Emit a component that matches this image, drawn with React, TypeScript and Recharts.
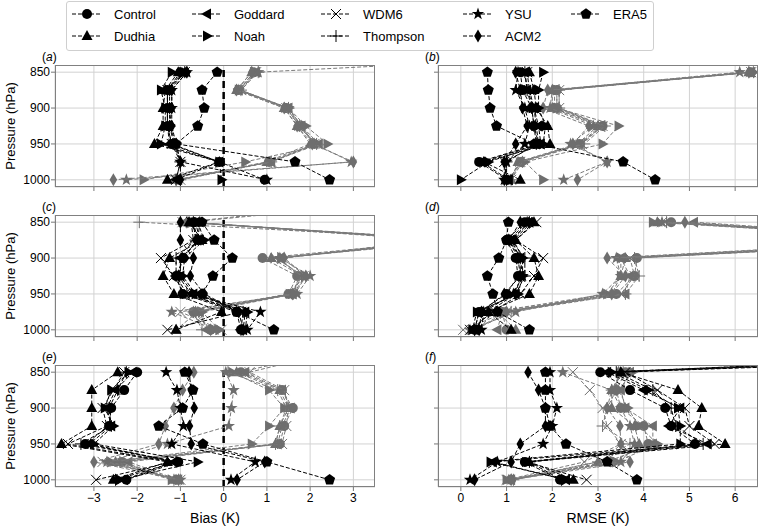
import React from 'react';
import { ScatterChart, Scatter, XAxis, YAxis, CartesianGrid, ReferenceLine } from 'recharts';

// pressure levels, top of profile first
const LEVELS = [850, 875, 900, 925, 950, 975, 1000];
const ABOVE_LEVEL = 825;
const SCHEMES = ['Control', 'Dudhia', 'Goddard', 'Noah', 'WDM6', 'Thompson', 'YSU', 'ACM2'];
const BIAS_TICKS = [-3, -2, -1, 0, 1, 2, 3];
const RMSE_TICKS = [0, 1, 2, 3, 4, 5, 6];
const P_TICKS = [850, 900, 950, 1000];

// (a) bias
const aBlack: Record<string, number[]> = {
  Control: [-1.0, -1.3, -1.3, -1.3, -1.2, -0.1, 0.95],
  Dudhia: [-1.05, -1.35, -1.4, -1.4, -1.6, -0.1, -1.3],
  Goddard: [-0.95, -1.3, -1.3, -1.3, -1.25, -0.1, -1.1],
  Noah: [-1.2, -1.45, -1.35, -1.35, -1.45, -0.1, -0.05],
  WDM6: [-0.9, -1.3, -1.3, -1.3, -1.2, -1.0, -1.1],
  Thompson: [-0.9, -1.25, -1.25, -1.25, -1.1, -1.0, -1.1],
  YSU: [-0.85, -1.2, -1.2, -1.25, -1.15, -1.0, 1.0],
  ACM2: [-0.85, -1.2, -1.2, -1.2, -1.1, -1.0, -1.0],
};
const aGray: Record<string, number[]> = {
  Control: [0.7, 0.35, 1.45, 1.75, 2.1, 1.05, -1.05],
  Dudhia: [0.65, 0.3, 1.4, 1.7, 2.0, 1.0, -1.1],
  Goddard: [0.75, 0.35, 1.5, 1.8, 2.2, 1.1, -1.05],
  Noah: [0.7, 0.35, 1.5, 1.9, 2.4, 0.5, -1.85],
  WDM6: [0.75, 0.4, 1.45, 1.75, 2.1, 1.1, -1.0],
  Thompson: [0.8, 0.4, 1.5, 1.75, 2.15, 1.1, -1.0],
  YSU: [0.8, 0.35, 1.5, 1.8, 2.1, 2.95, -2.25],
  ACM2: [0.65, 0.3, 1.4, 1.7, 2.05, 3.0, -2.55],
};
const aGrayAbove: Record<string, number> = { Thompson: 9 };
const aEra5 = [-0.15, -0.5, -0.45, -0.6, -1.1, 1.65, 2.45];

// (b) rmse
const bBlack: Record<string, number[]> = {
  Control: [1.3, 1.35, 1.55, 1.6, 1.7, 0.4, 1.0],
  Dudhia: [1.5, 1.6, 1.65, 1.9, 1.95, 0.5, 1.3],
  Goddard: [1.4, 1.45, 1.6, 1.7, 1.75, 0.45, 1.05],
  Noah: [1.8, 1.7, 1.7, 1.85, 1.8, 0.6, 0.0],
  WDM6: [1.45, 1.5, 1.6, 1.65, 1.7, 0.95, 1.0],
  Thompson: [1.4, 1.45, 1.55, 1.6, 1.65, 1.0, 1.0],
  YSU: [1.25, 1.2, 1.4, 1.5, 1.4, 1.0, 0.95],
  ACM2: [1.2, 1.3, 1.35, 1.45, 1.2, 0.95, 0.95],
};
const bGray: Record<string, number[]> = {
  Control: [6.35, 2.1, 2.1, 3.1, 2.6, 1.3, 1.05],
  Dudhia: [6.3, 2.0, 2.0, 3.0, 2.55, 1.25, 1.1],
  Goddard: [6.35, 2.05, 2.05, 3.05, 2.6, 1.3, 1.05],
  Noah: [6.4, 2.1, 2.1, 3.45, 3.1, 1.4, 1.8],
  WDM6: [6.35, 2.15, 2.15, 3.1, 2.65, 1.3, 1.1],
  Thompson: [6.4, 2.15, 2.15, 3.15, 2.7, 1.35, 1.1],
  YSU: [6.1, 2.0, 1.95, 2.9, 2.4, 3.2, 2.25],
  ACM2: [6.3, 1.9, 1.8, 2.8, 2.45, 3.2, 2.55],
};
const bEra5 = [0.58, 0.6, 0.64, 0.78, 1.6, 3.55, 4.25];

// (c) bias
const cBlack: Record<string, number[]> = {
  Control: [-0.7, -0.6, -0.93, -1.1, -0.95, 0.3, 0.4],
  Dudhia: [-0.8, -0.5, -1.25, -1.4, -1.15, -0.05, -1.1],
  Goddard: [-0.65, -0.55, -1.0, -1.0, -0.7, 0.5, 0.45],
  Noah: [-0.6, -0.45, -0.9, -0.95, -0.65, 0.55, 0.5],
  WDM6: [-0.75, -0.7, -1.45, -1.15, -0.9, 0.4, -1.3],
  Thompson: [-0.7, -0.65, -1.1, -1.1, -0.85, 0.45, 0.4],
  YSU: [-0.55, -0.6, -0.95, -1.05, -0.75, 0.85, 0.55],
  ACM2: [-1.0, -1.0, -0.7, -0.77, -0.45, 0.35, 0.45],
};
const cGray: Record<string, number[]> = {
  Control: [-0.8, 5.2, 0.9, 1.7, 1.5, -0.7, -0.3],
  Dudhia: [-0.85, 5.5, 1.1, 1.8, 1.55, -0.6, -1.1],
  Goddard: [-0.9, 5.3, 1.3, 1.75, 1.6, -0.55, -0.4],
  Noah: [-0.75, 5.0, 1.35, 1.9, 1.65, -0.5, -0.1],
  WDM6: [-0.95, 5.4, 1.2, 1.85, 1.55, -1.0, -0.05],
  Thompson: [-1.95, 5.6, 1.25, 1.8, 1.6, -0.7, -0.5],
  YSU: [-0.8, 5.1, 1.3, 2.0, 1.7, -1.2, -0.2],
  ACM2: [-0.85, 4.8, 1.4, 1.9, 1.6, -0.65, -0.3],
};
const cGrayAbove: Record<string, number> = { Control: 3.4, Goddard: 3.0 };
const cEra5 = [-0.5, -0.22, 0.2, -0.25, -0.5, 0.3, 1.16];

// (d) rmse
const dBlack: Record<string, number[]> = {
  Control: [1.4, 1.0, 1.2, 1.25, 1.0, 0.4, 0.3],
  Dudhia: [1.6, 1.2, 1.6, 1.7, 1.5, 0.6, 1.1],
  Goddard: [1.5, 1.1, 1.3, 1.3, 1.2, 0.4, 0.3],
  Noah: [1.55, 1.15, 1.35, 1.35, 1.25, 0.35, 0.25],
  WDM6: [1.65, 1.2, 1.8, 1.6, 1.3, 0.7, 0.2],
  Thompson: [1.5, 1.1, 1.4, 1.4, 1.2, 0.6, 0.3],
  YSU: [1.45, 1.05, 1.3, 1.35, 1.15, 0.5, 0.45],
  ACM2: [1.3, 1.05, 1.25, 1.3, 0.95, 0.45, 0.4],
};
const dGray: Record<string, number[]> = {
  Control: [4.6, 11.0, 3.85, 3.8, 3.4, 0.9, 1.0],
  Dudhia: [4.3, 11.2, 3.6, 3.5, 3.3, 0.8, 1.2],
  Goddard: [5.1, 10.8, 3.5, 3.7, 3.6, 0.9, 0.8],
  Noah: [4.2, 10.6, 3.5, 3.5, 3.2, 0.7, 0.4],
  WDM6: [4.4, 11.4, 3.7, 3.8, 3.5, 1.0, 0.05],
  Thompson: [4.5, 11.5, 3.8, 3.9, 3.6, 1.1, 0.3],
  YSU: [4.4, 10.5, 3.4, 3.5, 3.1, 1.2, 0.2],
  ACM2: [4.9, 10.4, 3.2, 3.6, 3.3, 1.0, 0.3],
};
const dEra5 = [1.04, 1.0, 0.83, 0.58, 0.7, 0.8, 1.5];

// (e) bias
const eBlack: Record<string, number[]> = {
  Control: [-2.0, -2.3, -2.6, -2.65, -3.2, -1.05, -2.25],
  Dudhia: [-2.45, -3.05, -3.05, -3.05, -3.75, -1.3, -2.55],
  Goddard: [-2.1, -2.5, -2.7, -2.6, -3.1, -1.15, -2.3],
  Noah: [-2.2, -2.6, -2.75, -2.55, -3.0, -0.6, -2.4],
  WDM6: [-2.3, -2.55, -2.8, -2.7, -3.6, -1.2, -2.95],
  Thompson: [-2.25, -2.45, -2.65, -2.6, -3.3, -1.1, -2.5],
  YSU: [-1.33, -1.08, -1.0, -0.93, -1.2, 0.73, 0.17],
  ACM2: [-0.8, -0.75, -0.68, -0.79, -0.75, 0.95, 0.31],
};
const eGray: Record<string, number[]> = {
  Control: [0.4, 1.35, 1.6, 1.4, 1.3, -2.35, -1.1],
  Dudhia: [0.3, 1.3, 1.5, 1.3, 1.2, -2.5, -1.1],
  Goddard: [0.5, 1.35, 1.55, 1.35, 1.25, -2.2, -1.05],
  Noah: [0.2, 1.05, 1.4, 1.05, 0.65, -2.6, -1.2],
  WDM6: [0.6, 1.4, 1.5, 1.45, 1.35, -2.8, -1.0],
  Thompson: [0.1, 1.25, 1.45, 1.3, 1.2, -2.4, -1.15],
  YSU: [0.05, 0.23, 0.18, 0.12, -1.3, -2.7, -1.0],
  ACM2: [-0.69, -0.95, -1.15, -1.35, -1.5, -3.0, -1.04],
};
const eGrayAbove: Record<string, number> = { Control: 2.1, WDM6: 2.3 };
const eEra5 = [-0.9, -0.71, -0.95, -1.5, -0.48, 1.0, 2.45];

// (f) rmse
const fBlack: Record<string, number[]> = {
  Control: [3.05, 3.7, 4.47, 4.6, 5.12, 1.4, 2.17],
  Dudhia: [3.5, 4.75, 5.27, 5.2, 5.78, 1.5, 2.46],
  Goddard: [3.2, 4.0, 4.8, 4.55, 5.4, 0.7, 2.3],
  Noah: [3.3, 4.1, 4.75, 4.8, 4.8, 0.65, 2.3],
  WDM6: [3.6, 4.3, 4.9, 5.0, 5.55, 1.45, 2.75],
  Thompson: [3.4, 4.2, 4.6, 4.7, 5.3, 1.5, 2.2],
  YSU: [1.95, 1.95, 2.1, 2.0, 1.8, 0.8, 0.2],
  ACM2: [1.47, 1.7, 1.85, 1.85, 1.3, 1.1, 0.3],
};
const fBlackAbove: Record<string, number> = { Control: 13, Goddard: 14, Noah: 12, Thompson: 15, WDM6: 13 };
const fGray: Record<string, number[]> = {
  Control: [3.6, 3.4, 3.5, 4.0, 4.1, 3.3, 1.1],
  Dudhia: [3.5, 3.3, 3.3, 3.8, 3.9, 3.0, 1.05],
  Goddard: [3.7, 3.5, 3.6, 4.2, 4.2, 3.2, 1.1],
  Noah: [3.75, 3.45, 3.65, 3.9, 4.3, 3.4, 1.0],
  WDM6: [2.45, 2.82, 3.1, 3.2, 3.5, 2.7, 1.0],
  Thompson: [3.55, 3.3, 3.2, 3.1, 3.7, 3.0, 1.15],
  YSU: [2.23, 3.3, 3.5, 3.7, 3.8, 3.5, 1.1],
  ACM2: [3.45, 3.4, 3.2, 3.48, 3.5, 3.7, 1.1],
};
const fEra5 = [1.85, 1.85, 1.85, 1.95, 2.3, 3.2, 3.85];

const MARKER: Record<string, string> = {
  Control: 'circle', Dudhia: 'triUp', Goddard: 'triLeft', Noah: 'triRight',
  WDM6: 'x', Thompson: 'plus', YSU: 'star', ACM2: 'diamond', ERA5: 'pentagon',
};

const BLACK = '#000000';
const GRAY_MARK = '#6e6e6e';
const GRAY_LINE = '#7a7a7a';

const PLOT_W = 320;
const PLOT_H = 122;
const P_DOMAIN = [840, 1010];

const polyPts = (cx: number, cy: number, n: number, r: number, rot: number, inner?: number) => {
  const pts: string[] = [];
  const steps = inner ? n * 2 : n;
  for (let i = 0; i < steps; i++) {
    const rr = inner && i % 2 === 1 ? inner : r;
    const a = rot + (i * 2 * Math.PI) / steps;
    pts.push(`${cx + rr * Math.sin(a)},${cy - rr * Math.cos(a)}`);
  }
  return pts.join(' ');
};

function drawMarker(kind: string, color: string, cx: number, cy: number) {
  switch (kind) {
    case 'circle':
      return <circle cx={cx} cy={cy} r={5} fill={color} />;
    case 'triUp':
      return <polygon points={`${cx},${cy - 6} ${cx + 5.5},${cy + 4} ${cx - 5.5},${cy + 4}`} fill={color} />;
    case 'triLeft':
      return <polygon points={`${cx - 6},${cy} ${cx + 4},${cy - 5.5} ${cx + 4},${cy + 5.5}`} fill={color} />;
    case 'triRight':
      return <polygon points={`${cx + 6},${cy} ${cx - 4},${cy - 5.5} ${cx - 4},${cy + 5.5}`} fill={color} />;
    case 'x':
      return <path d={`M${cx - 5},${cy - 5}L${cx + 5},${cy + 5}M${cx - 5},${cy + 5}L${cx + 5},${cy - 5}`} stroke={color} strokeWidth={1} fill="none" />;
    case 'plus':
      return <path d={`M${cx - 6},${cy}L${cx + 6},${cy}M${cx},${cy - 6}L${cx},${cy + 6}`} stroke={color} strokeWidth={1} fill="none" />;
    case 'star':
      return <polygon points={polyPts(cx, cy, 5, 6.5, 0, 2.6)} fill={color} />;
    case 'diamond':
      return <polygon points={`${cx},${cy - 6.5} ${cx + 3.8},${cy} ${cx},${cy + 6.5} ${cx - 3.8},${cy}`} fill={color} />;
    case 'pentagon':
      return <polygon points={polyPts(cx, cy, 5, 5.8, 0)} fill={color} />;
    default:
      return null;
  }
}

const toPoints = (vals: number[], above?: number) => {
  const pts = LEVELS.map((p, i) => ({ x: vals[i], p }));
  return above === undefined ? pts : [{ x: above, p: ABOVE_LEVEL }, ...pts];
};

const fmtTick = (v: number) => (v < 0 ? `\u2212${Math.abs(v)}` : `${v}`);

interface PanelProps {
  left: number;
  top: number;
  bias: boolean;
  bottom: boolean;
  tag: string;
  gray: Record<string, number[]>;
  black: Record<string, number[]>;
  era5: number[];
  grayAbove?: Record<string, number>;
  blackAbove?: Record<string, number>;
}

function Panel({ left, top, bias, bottom, tag, gray, black, era5, grayAbove = {}, blackAbove = {} }: PanelProps) {
  const yW = bias ? 55 : 10;
  const xH = bottom ? 45 : 8;
  const domain = bias ? [-3.9, 3.5] : [-0.5, 6.5];
  const series = (vals: Record<string, number[]>, above: Record<string, number>, color: string, lineColor: string, pre: string) =>
    SCHEMES.map((s) => (
      <Scatter
        key={pre + s}
        data={toPoints(vals[s], above[s])}
        fill={color}
        line={{ stroke: lineColor, strokeWidth: 1, strokeDasharray: '4 2' }}
        lineType="joint"
        shape={(pp: any) => drawMarker(MARKER[s], color, pp.cx, pp.cy)}
        isAnimationActive={false}
      />
    ));
  return (
    <>
      <div style={{ position: 'absolute', left: left - yW, top }}>
        <ScatterChart width={PLOT_W + yW} height={PLOT_H + xH} margin={{ top: 0, right: 0, bottom: 0, left: 0 }}>
          <CartesianGrid stroke="#d2d2d2" strokeWidth={1} />
          <XAxis
            type="number"
            dataKey="x"
            domain={domain}
            ticks={bias ? BIAS_TICKS : RMSE_TICKS}
            interval={0}
            allowDataOverflow
            height={xH}
            axisLine={false}
            tickSize={4}
            tickMargin={2}
            tickLine={{ stroke: '#777' }}
            tick={{ fill: '#000', fontSize: 12 }}
            tickFormatter={bottom ? fmtTick : () => ''}
            label={bottom ? { value: bias ? 'Bias (K)' : 'RMSE (K)', position: 'insideBottom', offset: 9, fill: '#000', fontSize: 14 } : undefined}
          />
          <YAxis
            type="number"
            dataKey="p"
            domain={P_DOMAIN}
            reversed
            ticks={P_TICKS}
            interval={0}
            allowDataOverflow
            width={yW}
            axisLine={false}
            tickSize={4}
            tickMargin={1}
            tickLine={{ stroke: '#777' }}
            tick={{ fill: '#000', fontSize: 12 }}
            tickFormatter={bias ? (v: number) => `${v}` : () => ''}
            label={bias ? { value: 'Pressure (hPa)', angle: -90, position: 'insideLeft', offset: 10, fill: '#000', fontSize: 13, style: { textAnchor: 'middle' } } : undefined}
          />
          {series(gray, grayAbove, GRAY_MARK, GRAY_LINE, 'g')}
          {bias && <ReferenceLine x={0} stroke="#000" strokeWidth={2.5} strokeDasharray="7 4" />}
          {series(black, blackAbove, BLACK, BLACK, 'b')}
          <Scatter
            data={toPoints(era5)}
            fill={BLACK}
            line={{ stroke: BLACK, strokeWidth: 1, strokeDasharray: '4 2' }}
            lineType="joint"
            shape={(pp: any) => drawMarker('pentagon', BLACK, pp.cx, pp.cy)}
            isAnimationActive={false}
          />
        </ScatterChart>
      </div>
      <div
        style={{
          position: 'absolute', left, top, width: PLOT_W, height: PLOT_H,
          border: '1px solid #808080', boxSizing: 'border-box', pointerEvents: 'none',
        }}
      />
      <div style={{ position: 'absolute', left: left - 13, top: top - 15, fontSize: 12, color: '#000' }}>
        (<i>{tag}</i>)
      </div>
    </>
  );
}

const LEGEND_COLS = [
  ['Control', 'Dudhia'],
  ['Goddard', 'Noah'],
  ['WDM6', 'Thompson'],
  ['YSU', 'ACM2'],
  ['ERA5'],
];
const LEGEND_X = [5, 125, 254, 396, 504];

function Legend() {
  return (
    <div
      style={{
        position: 'absolute', left: 66, top: 1, width: 588, height: 50,
        border: '1px solid #cfcfcf', borderRadius: 3, boxSizing: 'border-box', background: '#fff',
      }}
    >
      {LEGEND_COLS.map((col, ci) =>
        col.map((name, ri) => (
          <div key={name} style={{ position: 'absolute', left: LEGEND_X[ci], top: 4 + ri * 22, height: 16, display: 'flex', alignItems: 'center' }}>
            <svg width={30} height={16}>
              <line x1={0} y1={8} x2={30} y2={8} stroke="#000" strokeWidth={1} strokeDasharray="4 2" />
              {drawMarker(MARKER[name], '#000', 15, 8)}
            </svg>
            <span style={{ marginLeft: 12, fontSize: 13, color: '#000' }}>{name}</span>
          </div>
        ))
      )}
    </div>
  );
}

export default function App() {
  return (
    <div
      style={{
        position: 'absolute', left: 0, top: 0, width: 759, height: 530, background: '#fff',
        fontFamily: '"Liberation Sans", Arial, sans-serif',
      }}
    >
      <Legend />
      <Panel left={55} top={65} bias bottom={false} tag="a" gray={aGray} black={aBlack} era5={aEra5} grayAbove={aGrayAbove} />
      <Panel left={438} top={65} bias={false} bottom={false} tag="b" gray={bGray} black={bBlack} era5={bEra5} />
      <Panel left={55} top={215} bias bottom={false} tag="c" gray={cGray} black={cBlack} era5={cEra5} grayAbove={cGrayAbove} />
      <Panel left={438} top={215} bias={false} bottom={false} tag="d" gray={dGray} black={dBlack} era5={dEra5} />
      <Panel left={55} top={365} bias bottom tag="e" gray={eGray} black={eBlack} era5={eEra5} grayAbove={eGrayAbove} />
      <Panel left={438} top={365} bias={false} bottom tag="f" gray={fGray} black={fBlack} era5={fEra5} blackAbove={fBlackAbove} />
    </div>
  );
}
